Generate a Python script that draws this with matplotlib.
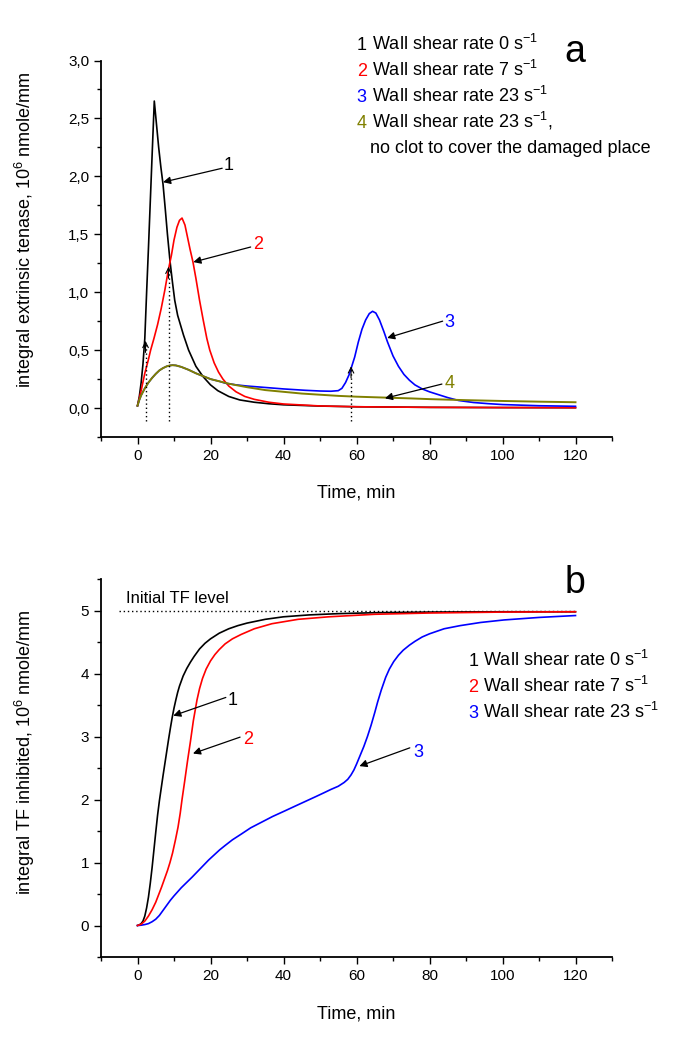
import matplotlib
matplotlib.use("Agg")
import matplotlib.pyplot as plt
from matplotlib.ticker import MultipleLocator, FuncFormatter

plt.rcParams["font.family"] = ["Liberation Sans", "DejaVu Sans"]
plt.rcParams["mathtext.fontset"] = "custom"
plt.rcParams["mathtext.rm"] = "Liberation Sans"
plt.rcParams["mathtext.it"] = "Liberation Sans:italic"
plt.rcParams["mathtext.bf"] = "Liberation Sans:bold"

# ---- panel a: integral extrinsic tenase ----
t_a1 = [0, 0.5, 1, 1.5, 2, 2.5, 3, 3.5, 4, 4.6, 5.2, 5.8, 6.4, 7.0, 7.6, 8.2, 8.9, 9.6, 10.2,
        11, 12.6, 14, 16, 18, 20, 22, 25, 28, 32, 36, 40, 50, 60, 80, 100, 120]
v_a1 = [0.02, 0.1, 0.22, 0.38, 0.6, 1.0, 1.38, 1.78, 2.18, 2.65, 2.45, 2.25, 2.08, 1.93, 1.72, 1.5, 1.27, 1.08, 0.93,
        0.8, 0.63, 0.5, 0.36, 0.27, 0.2, 0.15, 0.1, 0.07, 0.05, 0.037, 0.028, 0.017, 0.011, 0.006, 0.004, 0.003]

t_a2 = [0, 1, 2, 3, 3.6, 4.5, 5.5, 6.5, 7.5, 8.5, 9.3, 10, 10.8, 11.5, 12.2, 13, 13.8, 14.4, 15.2, 16, 17, 18, 19,
        19.8, 21, 22.2, 23.4, 25, 27, 29.4, 32, 36, 40, 50, 60, 80, 100, 120]
v_a2 = [0.02, 0.15, 0.3, 0.42, 0.5, 0.6, 0.72, 0.86, 1.02, 1.2, 1.32, 1.45, 1.56, 1.62, 1.64, 1.58, 1.46, 1.37, 1.26,
        1.12, 0.93, 0.76, 0.6, 0.5, 0.39, 0.31, 0.25, 0.19, 0.14, 0.1, 0.075, 0.05, 0.035, 0.018, 0.011, 0.006,
        0.004, 0.003]

t_a3 = [0, 0.5, 1, 2, 3, 4, 5, 6, 7, 8, 9, 9.6, 10.5, 12, 14, 16, 18, 20, 22.5, 24, 27, 30, 34, 40, 46, 50, 53,
        55, 56, 57, 58, 58.5, 59.5, 60.5, 61.5, 62.5, 63.5, 64.4, 65.3, 66.3, 67.5, 68.5, 70, 71.5, 73, 74.5, 76,
        78, 80, 82, 85, 88, 92, 96, 100, 110, 120]
v_a3 = [0.02, 0.07, 0.11, 0.17, 0.22, 0.26, 0.295, 0.325, 0.345, 0.36, 0.368, 0.37, 0.368, 0.355, 0.33, 0.3,
        0.275, 0.25, 0.23, 0.215, 0.2, 0.19, 0.18, 0.165, 0.153, 0.147, 0.145, 0.15, 0.17, 0.22, 0.29, 0.34,
        0.44, 0.57, 0.68, 0.76, 0.815, 0.835, 0.82, 0.76, 0.66, 0.57, 0.45, 0.36, 0.29, 0.24, 0.2, 0.165, 0.14,
        0.12, 0.09, 0.065, 0.048, 0.038, 0.03, 0.02, 0.015]

t_a4 = [0, 0.5, 1, 2, 3, 4, 5, 6, 7, 8, 9, 9.6, 10.5, 12, 14, 16, 18, 20, 22.5, 25, 27.5, 30, 35, 40, 45, 50,
        55, 60, 65, 70, 75, 80, 90, 100, 110, 120]
v_a4 = [0.02, 0.07, 0.11, 0.17, 0.22, 0.26, 0.295, 0.325, 0.345, 0.36, 0.368, 0.37, 0.368, 0.355, 0.33, 0.3,
        0.275, 0.25, 0.23, 0.21, 0.195, 0.18, 0.155, 0.14, 0.125, 0.115, 0.105, 0.098, 0.093, 0.088, 0.083,
        0.077, 0.068, 0.061, 0.055, 0.05]

# moments marked by dotted arrows in panel a (time, level of the arrow head)
mark_t = [2.2, 8.5, 58.5]
mark_v = [0.58, 1.22, 0.36]

# ---- panel b: integral TF inhibited ----
t_b1 = [0, 0.5, 1, 1.5, 2, 2.5, 3, 3.5, 4, 4.5, 5, 5.5, 6, 6.5, 7, 7.5, 8, 8.5, 9, 9.5, 10, 10.5, 11, 11.5,
        12.5, 13.5, 14.5, 15.5, 17, 18.5, 20, 22.4, 25, 27.5, 30, 35, 40, 47, 55, 65, 80, 100, 120]
v_b1 = [0, 0.01, 0.03, 0.07, 0.15, 0.28, 0.45, 0.67, 0.92, 1.2, 1.48, 1.75, 1.98, 2.18, 2.38, 2.57, 2.76, 2.95,
        3.13, 3.3, 3.45, 3.58, 3.7, 3.8, 3.96, 4.08, 4.18, 4.27, 4.39, 4.48, 4.55, 4.64, 4.71, 4.76, 4.8, 4.86,
        4.9, 4.93, 4.95, 4.965, 4.975, 4.98, 4.98]

t_b2 = [0, 1, 2, 3, 4, 5, 5.8, 6.6, 7.4, 8.2, 8.9, 9.6, 10.4, 11.1, 11.7, 12.2, 12.9, 13.7, 14.5, 15.3, 16.3,
        17, 17.8, 18.8, 20, 21.2, 22.4, 24, 26, 28.4, 32, 36.8, 44, 52.4, 65, 80, 100, 120]
v_b2 = [0, 0.02, 0.07, 0.15, 0.25, 0.37, 0.49, 0.61, 0.74, 0.87, 1.0, 1.15, 1.36, 1.56, 1.78, 2.0, 2.28, 2.61,
        2.92, 3.25, 3.58, 3.76, 3.92, 4.07, 4.2, 4.3, 4.38, 4.47, 4.55, 4.62, 4.71, 4.79, 4.86, 4.9, 4.94, 4.96,
        4.975, 4.98]

t_b3 = [0, 1, 2, 3, 4, 5, 6, 7, 8, 9, 10, 11, 12, 13.5, 15, 16.5, 18, 19.5, 21, 22.5, 24, 26, 28.4, 31, 34, 37,
        40.4, 43, 46, 49, 51.2, 53, 55, 56.6, 57.6, 58.5, 59.3, 60, 61, 62, 63, 64, 65, 65.8, 66.8, 68, 69, 70.2,
        71.5, 72.8, 74.5, 76, 78, 80, 84, 88.4, 94, 100.4, 110, 120]
v_b3 = [0, 0.005, 0.015, 0.03, 0.06, 0.1, 0.16, 0.24, 0.32, 0.4, 0.47, 0.535, 0.6, 0.685, 0.77, 0.86, 0.95, 1.04,
        1.12, 1.2, 1.27, 1.36, 1.45, 1.55, 1.64, 1.73, 1.82, 1.89, 1.97, 2.05, 2.11, 2.16, 2.21, 2.27, 2.32, 2.39,
        2.47, 2.56, 2.7, 2.84, 3.0, 3.18, 3.38, 3.55, 3.74, 3.94, 4.07, 4.19, 4.29, 4.37, 4.45, 4.51, 4.58, 4.63,
        4.71, 4.76, 4.81, 4.85, 4.89, 4.92]

tf_level = 5.0

BLACK, RED, BLUE, OLIVE = "#000000", "#ff0000", "#0000ff", "#808000"
legend_a = [("1", BLACK, " Wall shear rate 0 s$^{-1}$"),
            ("2", RED, " Wall shear rate 7 s$^{-1}$"),
            ("3", BLUE, " Wall shear rate 23 s$^{-1}$"),
            ("4", OLIVE, " Wall shear rate 23 s$^{-1}$,")]
legend_b = legend_a[:3]

W, H = 685, 1043
fig = plt.figure(figsize=(W / 100, H / 100), dpi=100)
ax_a = fig.add_axes([101 / W, 1 - 437 / H, 511 / W, 376.5 / H])
ax_b = fig.add_axes([101 / W, 1 - 957 / H, 511 / W, 378 / H])


def style_axes(ax):
    for s in ("top", "right"):
        ax.spines[s].set_visible(False)
    for s in ("left", "bottom"):
        ax.spines[s].set_linewidth(1.3)
    ax.set_xlim(-10, 130)
    ax.xaxis.set_major_locator(MultipleLocator(20))
    ax.xaxis.set_minor_locator(MultipleLocator(10))
    ax.tick_params(which="major", direction="out", length=5, width=1.0, labelsize=11, pad=3.5)
    ax.tick_params(which="minor", direction="out", length=3, width=1.0)
    ax.set_xlabel("Time, min", fontsize=13)
    ax.xaxis.set_label_coords(0.5, -0.127)


def label_arrow(ax, txt, color, xy, xytext, text_pos):
    ax.annotate("", xy=xy, xytext=xytext,
                arrowprops=dict(arrowstyle="-|>", color="black", lw=0.9, mutation_scale=11, shrinkA=0, shrinkB=0))
    ax.text(text_pos[0], text_pos[1], txt, color=color, fontsize=13, ha="center", va="center")


def write_legend(items, x_px, y_px, step_px):
    # coloured number, then the black text right after it
    for i, (num, col, rest) in enumerate(items):
        y = 1 - (y_px + i * step_px) / H
        t1 = fig.text(x_px / W, y, num, color=col, fontsize=13, va="baseline")
        fig.add_artist(plt.Annotation(rest, xy=(1, y), xycoords=(t1, "figure fraction"),
                                      va="baseline", fontsize=13, color="black"))


# ---------------- panel a ----------------
style_axes(ax_a)
ax_a.set_ylim(-0.25, 3.0)
ax_a.yaxis.set_major_locator(MultipleLocator(0.5))
ax_a.yaxis.set_minor_locator(MultipleLocator(0.25))
ax_a.yaxis.set_major_formatter(FuncFormatter(lambda v, p: f"{v:.1f}".replace(".", ",")))
ax_a.plot(t_a1, v_a1, color=BLACK, lw=1.2)
ax_a.plot(t_a2, v_a2, color=RED, lw=1.2)
ax_a.plot(t_a3, v_a3, color=BLUE, lw=1.2)
ax_a.plot(t_a4, v_a4, color=OLIVE, lw=1.4)
ax_a.set_ylabel("integral extrinsic tenase, 10$^6$ nmole/mm", fontsize=13)
ax_a.yaxis.set_label_coords(-0.125, 0.55)

for t, v in zip(mark_t, mark_v):
    ax_a.plot([t, t], [-0.11, v - 0.02], color="black", lw=1.0, ls=(0, (1, 2)))
    ax_a.annotate("", xy=(t, v), xytext=(t, v - 0.1),
                  arrowprops=dict(arrowstyle="->", color="black", lw=0.8, mutation_scale=10, shrinkA=0, shrinkB=0))

label_arrow(ax_a, "1", BLACK, (7.0, 1.95), (23.2, 2.07), (24.9, 2.09))
label_arrow(ax_a, "2", RED, (15.3, 1.26), (31.0, 1.39), (33.1, 1.41))
label_arrow(ax_a, "3", BLUE, (68.4, 0.605), (83.6, 0.75), (85.4, 0.74))
label_arrow(ax_a, "4", OLIVE, (67.8, 0.084), (83.4, 0.207), (85.6, 0.21))

fig.text(575 / W, 1 - 52 / H, "a", fontsize=27, ha="center", va="center")

# ---------------- panel b ----------------
style_axes(ax_b)
ax_b.set_ylim(-0.5, 5.5)
ax_b.yaxis.set_major_locator(MultipleLocator(1))
ax_b.yaxis.set_minor_locator(MultipleLocator(0.5))
ax_b.plot([-5, 120], [tf_level, tf_level], color="black", lw=1.0, ls=(0, (1, 2)))
ax_b.text(-3.2, tf_level + 0.07, "Initial TF level", fontsize=12, ha="left", va="bottom")
ax_b.plot(t_b1, v_b1, color=BLACK, lw=1.2)
ax_b.plot(t_b3, v_b3, color=BLUE, lw=1.2)
ax_b.plot(t_b2, v_b2, color=RED, lw=1.2)
ax_b.set_ylabel("integral TF inhibited, 10$^6$ nmole/mm", fontsize=13)
ax_b.yaxis.set_label_coords(-0.125, 0.542)

label_arrow(ax_b, "1", BLACK, (9.8, 3.33), (24.2, 3.62), (26.0, 3.57))
label_arrow(ax_b, "2", RED, (15.2, 2.73), (28.1, 2.99), (30.2, 2.96))
label_arrow(ax_b, "3", BLUE, (60.8, 2.53), (74.6, 2.82), (77.0, 2.74))

fig.text(575 / W, 1 - 583 / H, "b", fontsize=27, ha="center", va="center")

# ---------------- coloured-number legends ----------------
write_legend(legend_a, 356.7, 50, 26)
fig.text(370.5 / W, 1 - 153 / H, "no clot to cover the damaged place", fontsize=13, va="baseline")
write_legend(legend_b, 468.3, 666, 26)

fig.savefig("out.png", dpi=100)
